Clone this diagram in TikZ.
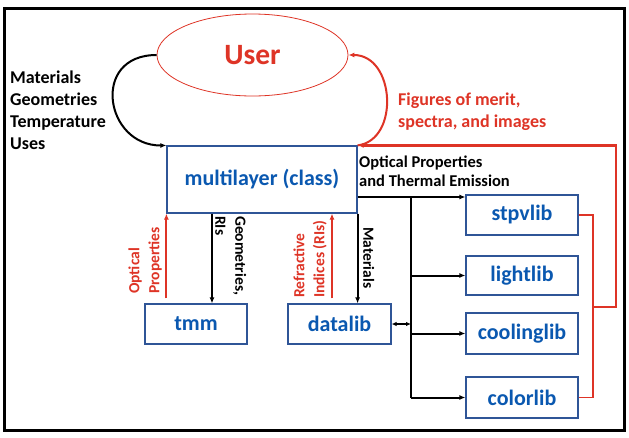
\documentclass[tikz,border=0pt]{standalone}
\usepackage{fontspec}
\setmainfont{Carlito}
\usetikzlibrary{arrows.meta,positioning,shapes.geometric,calc}
\definecolor{myred}{RGB}{222,52,38}
\definecolor{myblue}{RGB}{10,88,176}
\definecolor{boxblue}{RGB}{47,85,151}
\tikzset{
  libbox/.style={draw=boxblue, line width=1.2pt, align=center, minimum height=40pt, text=myblue, font=\fontsize{22}{24}\selectfont\bfseries, inner sep=0pt},
  arrow/.style={-{Latex[length=6pt,width=5pt]}, line width=2pt},
  redarrow/.style={arrow, draw=myred},
  dblarrow/.style={{Latex[length=5pt,width=4.5pt]}-{Latex[length=5pt,width=4.5pt]}, line width=1.8pt},
  bus/.style={line width=2pt},
  lbl/.style={font=\fontsize{18}{22}\selectfont\bfseries, align=left, inner sep=0pt},
  sidelbl/.style={font=\fontsize{15.5}{20}\selectfont\bfseries, align=left, inner sep=0pt}
}
\begin{document}
\begin{tikzpicture}[x=1pt,y=-1pt]
\useasboundingbox (0,0) rectangle (629,437);
\draw[line width=3pt] (4,8) rectangle (624,430);
% user and main class
\node[ellipse, draw=myred, line width=0.8pt, minimum width=191pt, minimum height=82pt, text=myred, font=\fontsize{29.5}{34}\selectfont\bfseries] (user) at (252.5,55) {User};
\node[libbox, minimum width=190pt, minimum height=67pt] (ml) at (262,179.5) {multilayer (class)};
% libraries
\node[libbox, minimum width=102pt] (tmm) at (196,324) {tmm};
\node[libbox, minimum width=103pt] (datalib) at (339.5,324) {datalib};
\node[libbox, minimum width=112pt] (stpvlib) at (522,215) {stpvlib};
\node[libbox, minimum width=112pt, minimum height=39pt] (lightlib) at (522,275.5) {lightlib};
\node[libbox, minimum width=112pt, minimum height=41pt] (coolinglib) at (522,333.5) {coolinglib};
\node[libbox, minimum width=112pt, minimum height=41pt] (colorlib) at (522,397.5) {colorlib};
\coordinate (split) at (411,197);
\coordinate (rbr) at (593,307);
\coordinate (rup) at (616,0);
% user loop
\draw[arrow] (user.west) .. controls (90,55) and (105,146) .. (ml.north west);
\draw[redarrow] (ml.north east) .. controls (400,140) and (395,55) .. (user.east);
\node[lbl, anchor=north west] (inputs) at (10,71) {Materials\\Geometries\\Temperature\\Uses};
\node[lbl, text=myred, anchor=north west] (outputs) at (398,93) {Figures of merit,\\spectra, and images};
% outputs to libraries
\draw[arrow] (ml.east |- split) -- (stpvlib.west |- split);
\draw[bus] (split) -- (split |- colorlib);
\foreach \lib in {lightlib,coolinglib,colorlib}
  \draw[arrow] (split |- \lib) -- (\lib.west);
\draw[dblarrow] (datalib.east) -- (split |- datalib);
\node[font=\fontsize{16.5}{19}\selectfont\bfseries, align=left, inner sep=0pt, anchor=north west] (optemit) at (359,156) {Optical Properties\\and Thermal Emission};
% feedback from libraries
\draw[myred, line width=1.8pt] (stpvlib.east) -| (rbr) |- (colorlib.east);
\draw[redarrow, line width=2.2pt] (rbr) -| (rup |- ml.north east) -- (ml.north east);
% tmm and datalib
\draw[redarrow] ([yshift=5pt]tmm.north -| ml.south west) -- (ml.south west);
\draw[arrow] ([xshift=16pt]tmm.north |- ml.south) -- ([xshift=16pt]tmm.north);
\draw[redarrow] ([xshift=-7.5pt,yshift=5pt]datalib.north) -- ([xshift=-7.5pt]datalib.north |- ml.south);
\draw[arrow] (ml.south east) -- (ml.south east |- datalib.north);
\node[sidelbl, text=myred, rotate=90, anchor=south west] (optlbl) at (162,294) {Optical\\Properties};
\node[sidelbl, rotate=-90, anchor=south west] (geolbl) at (215,216) {Geometries,\\RIs};
\node[sidelbl, text=myred, rotate=90, anchor=south west] (rilbl) at (327,298) {Refractive\\Indices (RIs)};
\node[sidelbl, rotate=-90, anchor=south west] (matlbl) at (363,227) {Materials};
\end{tikzpicture}
\end{document}
